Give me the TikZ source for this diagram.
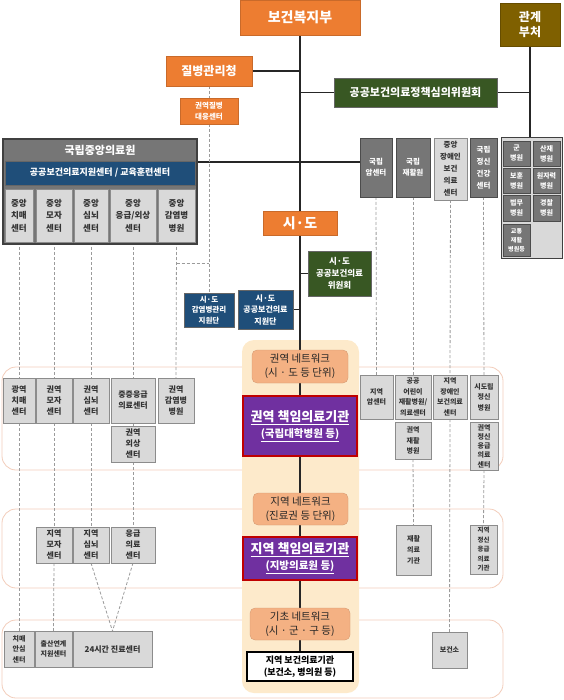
\documentclass[tikz,border=0pt]{standalone}
\usepackage{fontspec}
\setmainfont{Noto Sans CJK KR}
\definecolor{orng}{HTML}{ED7D31}
\definecolor{olivec}{HTML}{7F6000}
\definecolor{dgreen}{HTML}{385723}
\definecolor{dblue}{HTML}{1F4E79}
\definecolor{dgrey}{HTML}{767676}
\definecolor{lgrey}{HTML}{D9D9D9}
\definecolor{purp}{HTML}{7030A0}
\definecolor{redb}{HTML}{C00000}
\definecolor{netc}{HTML}{F4B183}
\definecolor{tallc}{HTML}{FDEACB}
\definecolor{bandc}{HTML}{F3CDBB}
\definecolor{txtd}{HTML}{333333}
\definecolor{lnc}{HTML}{262626}
\definecolor{dshc}{HTML}{9B9B9B}
\pgfdeclarelayer{bg}
\pgfdeclarelayer{ln}
\pgfsetlayers{bg,ln,main}
\newcommand\fs[2]{\fontsize{#1}{#2}\selectfont}
\newcommand\bx[7]{\node[#6, minimum width={(#4-#2)*1pt}, minimum height={(#5-#3)*1pt}] (#1) at ({(#2+#4)/2},{(#3+#5)/2}) {#7};}
\tikzset{
  every node/.style={inner sep=0.5pt, outer sep=0pt, align=center},
  orb/.style={fill=orng, draw=orng!85!black, line width=0.4pt, text=white},
  dk/.style={fill=dgrey, draw=black!70, line width=0.6pt, text=white, font=\bfseries\fs{7.5}{11}},
  lg/.style={fill=lgrey, draw=black!45, line width=0.5pt, text=txtd, font=\bfseries\fs{8}{11}},
  gr/.style={fill=dgreen, draw=black!60, line width=0.5pt, text=white},
  bl/.style={fill=dblue, draw=black!60, line width=0.5pt, text=white},
  net/.style={fill=netc, draw=netc!85!black, line width=0.3pt, rounded corners=5pt, text=black!85, font=\fs{10.5}{14}},
  resp/.style={fill=purp, draw=redb, line width=1.5pt, text=white, font=\bfseries\fs{13}{16}},
  band/.style={fill=white, draw=bandc, line width=0.8pt, rounded corners=14pt},
  sol/.style={draw=lnc, line width=1.1pt},
  dsh/.style={draw=dshc, line width=0.8pt, dash pattern=on 3pt off 2pt}
}
\begin{document}
\begin{tikzpicture}[x=1pt,y=-1pt]
\useasboundingbox (0,0) rectangle (563,700);
\begin{pgfonlayer}{bg}
\path[band] (2,367) rectangle (503,470);
\path[band] (2,509) rectangle (503,588);
\path[band] (2,620) rectangle (503,698);
\path[fill=tallc, rounded corners=12pt] (242,340) rectangle (359,693);
\end{pgfonlayer}
% top
\bx{mohw}{240}{0}{360}{35}{orb, font=\bfseries\fs{14}{16}}{보건복지부}
\bx{rel}{500}{3}{560}{46}{fill=olivec, draw=olivec!80!black, text=white, font=\bfseries\fs{12}{15}}{관계\\부처}
\bx{kdca}{166}{56}{252}{86}{orb, font=\bfseries\fs{12}{14}}{질병관리청}
\bx{kdcar}{180}{98}{238}{124}{orb, font=\bfseries\fs{7.5}{10.5}}{권역질병\\대응센터}
\bx{com}{334}{78}{497}{107}{gr, font=\bfseries\fs{11}{13}}{공공보건의료정책심의위원회}
% NMC
\bx{nmc}{3}{139}{197}{244}{fill=dgrey, draw=black!75, line width=1.2pt}{}
\node[text=white, font=\bfseries\fs{11}{13}] (nmct) at (100,150) {국립중앙의료원};
\bx{nmcb}{5}{161}{195}{185}{bl, font=\bfseries\fs{9}{11}}{공공보건의료지원센터 / 교육훈련센터}
\bx{c1}{5}{189}{33}{242}{lg, font=\bfseries\fs{8.5}{12.5}}{중앙\\치매\\센터}
\bx{c2}{36}{189}{72}{242}{lg, font=\bfseries\fs{8.5}{12.5}}{중앙\\모자\\센터}
\bx{c3}{74}{189}{108}{242}{lg, font=\bfseries\fs{8.5}{12.5}}{중앙\\심뇌\\센터}
\bx{c4}{110}{189}{156}{242}{lg, font=\bfseries\fs{8.5}{12.5}}{중앙\\응급/외상\\센터}
\bx{c5}{158}{189}{195}{242}{lg, font=\bfseries\fs{8.5}{12.5}}{중앙\\감염병\\병원}
% right national
\bx{cancer}{360}{138}{392}{197}{dk}{국립\\암센터}
\bx{rehab}{396}{138}{430}{197}{dk}{국립\\재활원}
\bx{disab}{434}{138}{467}{200}{lg, font=\bfseries\fs{7.5}{12}}{중앙\\장애인\\보건\\의료\\센터}
\bx{psych}{470}{138}{497}{197}{dk, font=\bfseries\fs{7.5}{12}}{국립\\정신\\건강\\센터}
\bx{grid}{501}{138}{562}{258}{fill=lgrey, draw=black!75, line width=1pt}{}
\bx{g1}{503}{141}{530}{166}{dk, font=\bfseries\fs{7}{10}}{군\\병원}
\bx{g2}{533}{141}{560}{166}{dk, font=\bfseries\fs{7}{10}}{산재\\병원}
\bx{g3}{503}{168}{530}{193}{dk, font=\bfseries\fs{7}{10}}{보훈\\병원}
\bx{g4}{533}{168}{560}{193}{dk, font=\bfseries\fs{7}{10}}{원자력\\병원}
\bx{g5}{503}{195}{530}{221}{dk, font=\bfseries\fs{7}{10}}{법무\\병원}
\bx{g6}{533}{195}{560}{221}{dk, font=\bfseries\fs{7}{10}}{경찰\\병원}
\bx{g7}{503}{224}{530}{256}{dk, font=\bfseries\fs{6}{9}}{교통\\재활\\병원등}
% sido
\bx{sido}{263}{211}{337}{235}{orb, font=\bfseries\fs{14}{16}}{시·도}
\bx{sdcom}{308}{251}{371}{296}{gr, font=\bfseries\fs{8.5}{12}}{시·도\\공공보건의료\\위원회}
\bx{sdsup}{238}{290}{293}{329}{bl, font=\bfseries\fs{8}{11.5}}{시·도\\공공보건의료\\지원단}
\bx{sdinf}{184}{293}{234}{327}{bl, font=\bfseries\fs{7.5}{10.5}}{시·도\\감염병관리\\지원단}
% networks
\bx{net1}{252}{350}{348}{383}{net}{권역 네트워크\\(시 · 도 등 단위)}
\bx{resp1}{243}{396}{357}{456}{resp}{\underline{권역 책임의료기관}\\{\fs{10.5}{16}\underline{(국립대학병원 등)}}}
\bx{net2}{253}{493}{348}{525}{net}{지역 네트워크\\(진료권 등 단위)}
\bx{resp2}{243}{537}{357}{580}{resp}{\underline{지역 책임의료기관}\\{\fs{10.5}{16}\underline{(지방의료원 등)}}}
\bx{net3}{250}{608}{350}{640}{net}{기초 네트워크\\(시 · 군 · 구 등)}
\bx{local}{247}{652}{353}{681}{fill=white, draw=black, line width=1.2pt, text=black, font=\bfseries\fs{9}{12}}{지역 보건의료기관\\(보건소, 병의원 등)}
% regional left
\bx{r1}{3}{378}{35}{423}{lg}{광역\\치매\\센터}
\bx{r2}{36}{378}{72}{423}{lg}{권역\\모자\\센터}
\bx{r3}{73}{378}{109}{423}{lg}{권역\\심뇌\\센터}
\bx{r4}{111}{378}{155}{423}{lg}{중증응급\\의료센터}
\bx{r4b}{111}{426}{155}{462}{lg}{권역\\외상\\센터}
\bx{r6}{158}{378}{194}{423}{lg}{권역\\감염병\\병원}
% regional right
\bx{rr1}{360}{375}{393}{419}{lg, font=\bfseries\fs{7}{10.5}}{지역\\암센터}
\bx{rr2}{395}{375}{431}{419}{lg, font=\bfseries\fs{7}{10.5}}{공공\\어린이\\재활병원/\\의료센터}
\bx{rr2b}{395}{422}{431}{459}{lg, font=\bfseries\fs{7}{10.5}}{권역\\재활\\병원}
\bx{rr3}{433}{375}{467}{419}{lg, font=\bfseries\fs{7}{10.5}}{지역\\장애인\\보건의료\\센터}
\bx{rr4}{470}{375}{498}{419}{lg, font=\bfseries\fs{7}{10.5}}{시도립\\정신\\병원}
\bx{rr4b}{470}{422}{498}{470}{lg, font=\bfseries\fs{7}{9.3}}{권역\\정신\\응급\\의료\\센터}
% local band
\bx{m2}{36}{527}{72}{563}{lg}{지역\\모자\\센터}
\bx{m3}{73}{527}{109}{563}{lg}{지역\\심뇌\\센터}
\bx{m4}{111}{527}{155}{563}{lg}{응급\\의료\\센터}
\bx{m5}{396}{525}{431}{575}{lg, font=\bfseries\fs{7}{11}}{재활\\의료\\기관}
\bx{m6}{470}{525}{497}{574}{lg, font=\bfseries\fs{6.5}{9.5}}{지역\\정신\\응급\\의료\\기관}
% basic band
\bx{b1}{4}{631}{34}{667}{lg, font=\bfseries\fs{7}{10.5}}{치매\\안심\\센터}
\bx{b2}{35}{631}{72}{667}{lg, font=\bfseries\fs{7}{9.5}}{출산연계\\지원센터}
\bx{b3}{73}{631}{152}{667}{lg, font=\bfseries\fs{8}{10}}{24시간 진료센터}
\bx{b4}{432}{632}{467}{668}{lg, font=\bfseries\fs{7}{10}}{보건소}
\coordinate (hA) at (0,162);
\coordinate (jA) at (0,263);
\begin{pgfonlayer}{ln}
\draw[sol] (mohw.south) -- (local.north);
\draw[sol] (kdca.east) -- (kdca.east -| mohw.south);
\draw[sol] (com.west -| mohw.south) -- (com.west);
\draw[sol] (com.east) -- (com.east -| rel.south);
\draw[sol] (rel.south) -- (grid.north -| rel.south);
\draw[sol] (nmc.east |- hA) -- (cancer.west |- hA);
\draw[sol] (sdcom.west -| mohw.south) -- (sdcom.west);
\draw[sol] (sdsup.east) -- (sdsup.east -| mohw.south);
\draw[dsh] (kdca.south) -- (kdcar.north);
\draw[dsh] (kdcar.south) -- (sdinf.north);
\draw[dsh] (c5.south |- jA) -- (kdcar.south |- jA);
\draw[dsh] (c1.south) -- (r1.north);
\draw[dsh] (r1.south) -- (b1.north);
\draw[dsh] (c2.south) -- (r2.north);
\draw[dsh] (r2.south) -- (m2.north);
\draw[dsh] (m2.south) -- (b2.north);
\draw[dsh] (c3.south) -- (r3.north);
\draw[dsh] (r3.south) -- (m3.north);
\draw[dsh] (m3.south) -- (b3.north);
\draw[dsh] (c4.south) -- (r4.north);
\draw[dsh] (r4.south) -- (r4b.north);
\draw[dsh] (r4b.south) -- (m4.north);
\draw[dsh] (m4.south) -- (b3.north);
\draw[dsh] (c5.south) -- (r6.north);
\draw[dsh] (cancer.south) -- (rr1.north);
\draw[dsh] (rehab.south) -- (rr2.north);
\draw[dsh] (rr2b.south) -- (m5.north);
\draw[dsh] (disab.south) -- (rr3.north);
\draw[dsh] (rr3.south) -- (b4.north);
\draw[dsh] (psych.south) -- (rr4.north);
\draw[dsh] (rr4b.south) -- (m6.north);
\end{pgfonlayer}
\end{tikzpicture}
\end{document}
